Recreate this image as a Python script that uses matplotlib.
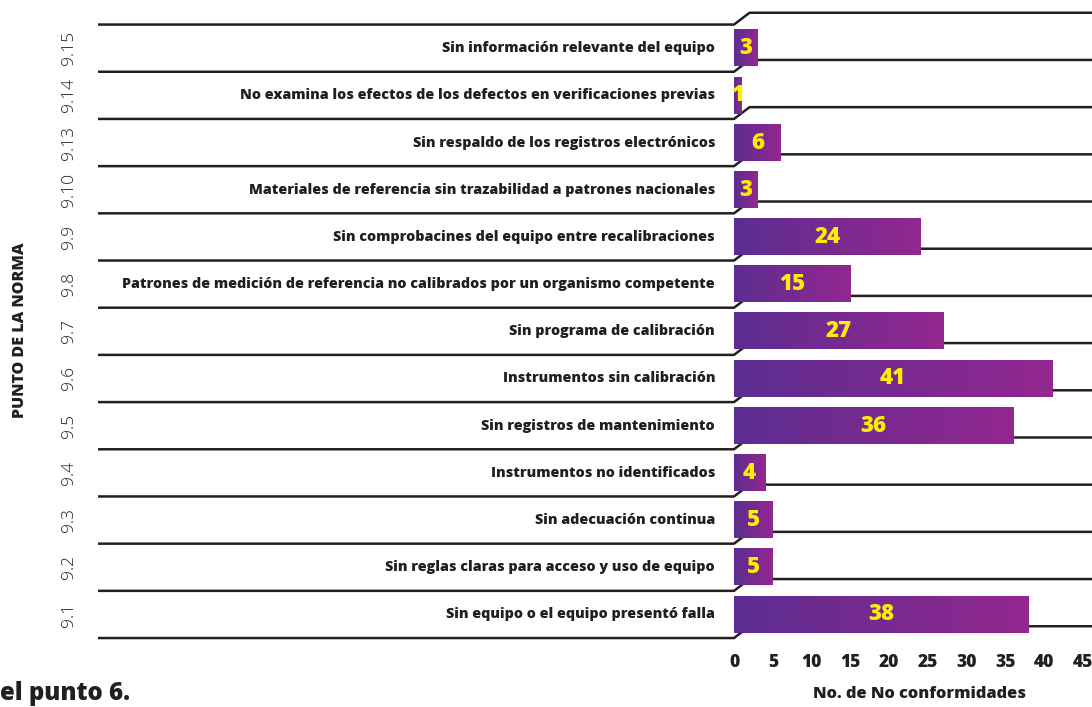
import numpy as np
import matplotlib
matplotlib.use("Agg")
import matplotlib.pyplot as plt
from matplotlib.colors import LinearSegmentedColormap

codes = ["9.1", "9.2", "9.3", "9.4", "9.5", "9.6", "9.7", "9.8", "9.9",
         "9.10", "9.13", "9.14", "9.15"]
descriptions = [
    "Sin equipo o el equipo presentó falla",
    "Sin reglas claras para acceso y uso de equipo",
    "Sin adecuación continua",
    "Instrumentos no identificados",
    "Sin registros de mantenimiento",
    "Instrumentos sin calibración",
    "Sin programa de calibración",
    "Patrones de medición de referencia no calibrados por un organismo competente",
    "Sin comprobacines del equipo entre recalibraciones",
    "Materiales de referencia sin trazabilidad a patrones nacionales",
    "Sin respaldo de los registros electrónicos",
    "No examina los efectos de los defectos en verificaciones previas",
    "Sin información relevante del equipo",
]
values = [38, 5, 5, 4, 36, 41, 27, 15, 24, 3, 6, 1, 3]
xticks = [0, 5, 10, 15, 20, 25, 30, 35, 40, 45]

FONT = "Open Sans"
plt.rcParams['font.family'] = [FONT, 'DejaVu Sans']
DARK = "#231f20"

W, H = 1092, 707
fig = plt.figure(figsize=(W / 100, H / 100), dpi=100)
ax = fig.add_axes([98 / W, (707 - 640.4) / H, 994 / W, 630 / H])

xmin, xmax = -81.96, 46.13
ax.set_xlim(xmin, xmax)
ax.set_ylim(-0.55, 12.8)

cmap = LinearSegmentedColormap.from_list("pg", ["#5c2d91", "#93278f"])
grad = np.linspace(0, 1, 256).reshape(1, -1)
bar_h = 0.77
n = len(values)
ypos = np.arange(n)

# separator lines with the diagonal step
for i in range(n + 1):
    yb = i - 0.5
    ax.plot([xmin, 0, 2.0, xmax], [yb, yb, yb + 0.25, yb + 0.25],
            color=DARK, lw=1.8, solid_capstyle="butt", zorder=1)

bars = ax.barh(ypos, values, height=bar_h, color="none", zorder=2)
for b, v, d in zip(bars, values, descriptions):
    x0, y0 = b.get_x(), b.get_y()
    w, h = b.get_width(), b.get_height()
    ax.imshow(grad, extent=[x0, x0 + w, y0, y0 + h], cmap=cmap,
              aspect="auto", zorder=3, interpolation="bilinear")
    ax.text(x0 + w / 2, y0 + h / 2, str(v), ha="center", va="center",
            color="#ffed00", fontsize=16, fontweight="heavy", zorder=4)
    ax.annotate(d, xy=(0, y0 + h / 2), xytext=(-19, 0),
                textcoords="offset pixels", ha="right", va="center",
                fontsize=10.3, fontweight="heavy", color=DARK, zorder=4)

ax.set_xlim(xmin, xmax)
ax.set_ylim(-0.55, 12.8)

ax.set_xticks(xticks)
ax.set_xticklabels([str(t) for t in xticks], fontsize=12.5,
                   fontweight="heavy", color=DARK)
ax.tick_params(axis="x", length=0, pad=10)

ax.set_yticks(ypos)
ax.set_yticklabels(codes, rotation=90, va="center", fontsize=12.5,
                   fontweight="light", color=DARK)
ax.tick_params(axis="y", length=0, pad=15)

for s in ax.spines.values():
    s.set_visible(False)

ax.set_ylabel("PUNTO DE LA NORMA", fontsize=11.5, fontweight="heavy",
              color=DARK)
ax.yaxis.set_label_coords(-0.0705, 0.493)
ax.set_xlabel("No. de No conformidades", fontsize=11.8, fontweight="heavy",
              color=DARK)
ax.xaxis.set_label_coords(0.826, -0.072)

fig.text(0.0, (707 - 693) / H, "el punto 6.", ha="left", va="center",
         fontsize=17.3, fontweight="heavy", color=DARK)

fig.savefig("out.png", dpi=100)
